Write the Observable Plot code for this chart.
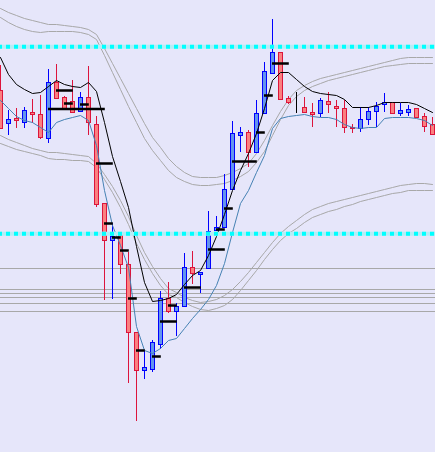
<!DOCTYPE html>
<html><head><meta charset="utf-8">
<script src="https://cdn.jsdelivr.net/npm/d3@7"></script>
<script src="https://cdn.jsdelivr.net/npm/@observablehq/plot@0.6"></script>
<style>html,body{margin:0;padding:0;background:#E6E6FA;overflow:hidden}#chart svg{display:block}</style>
</head><body><div id="chart"></div>
<script>
// Candle OHLC (bar index 0..54)
const open  = [1160,1127,1132,1128,1138,1136,1112,1168,1153,1149,1139,1153,1126,1047,1010,1015,986,918,880,881,906,952,939,944,983,976,982,1020,1023,1061,1115,1118,1098,1137,1177,1198,1152,1148,1143,1138,1137,1149,1144,1142,1123,1122,1131,1139,1146,1148,1137,1138,1142,1134,1126];
const high  = [1185,1140,1142,1143,1151,1155,1181,1186,1154,1170,1158,1184,1134,1047,1027,1015,998,918,900,910,959,968,947,997,999,978,1039,1034,1076,1129,1123,1120,1150,1188,1231,1198,1154,1158,1153,1147,1152,1158,1150,1150,1126,1143,1143,1148,1157,1148,1147,1145,1142,1137,1133];
const low   = [1122,1115,1122,1122,1127,1111,1107,1151,1142,1138,1139,1115,1043,950,951,976,867,829,871,878,901,937,914,944,966,957,982,1020,1023,1061,1098,1083,1098,1137,1177,1151,1146,1137,1138,1123,1133,1137,1123,1117,1117,1118,1125,1123,1138,1137,1134,1134,1133,1118,1116];
const close = [1122,1131,1130,1140,1136,1113,1168,1152,1142,1138,1153,1128,1046,1010,1014,986,918,880,883,908,952,939,944,983,977,978,1019,1023,1061,1117,1118,1098,1137,1179,1198,1151,1148,1148,1138,1136,1150,1146,1142,1123,1122,1131,1139,1144,1148,1137,1140,1141,1133,1124,1116];

// Indicator lines
const blackLine = [1193,1176,1166,1161,1157,1158,1164,1170,1166,1164,1163,1168,1159,1128,1094,1069,1043,1004,968,949,950,952,956,966,975,980,995,1014,1036,1060,1080,1097,1117,1142,1170,1178,1178,1171,1164,1159,1157,1156,1155,1151,1143,1143,1143,1145,1148,1148,1148,1148,1146,1142,1138];
const blueLine  = [1150,1142,1134,1130,1128,1123,1118,1128,1131,1133,1135,1130,1105,1060,1025,1005,983,924,900,897,902,910,912,922,932,941,951,965,987,1018,1047,1060,1078,1095,1122,1132,1134,1135,1136,1134,1133,1133,1131,1126,1123,1122,1123,1123,1132,1133,1133,1133,1132,1130,1125];
const upper1 = [1242,1238,1235,1232,1230,1228,1226,1226,1225,1224,1223,1221,1216,1202,1187,1172,1157,1142,1127,1113,1103,1092,1084,1078,1074,1073,1073,1073,1075,1078,1082,1087,1097,1110,1125,1139,1151,1160,1165,1169,1172,1174,1176,1178,1180,1182,1184,1186,1188,1190,1192,1193,1193,1193,1193];
const upper2 = [1233,1228,1224,1221,1219,1218,1219,1219,1219,1219,1218,1216,1211,1195,1178,1161,1144,1128,1112,1100,1090,1080,1073,1069,1066,1065,1065,1066,1067,1070,1074,1079,1088,1099,1115,1131,1145,1154,1160,1164,1167,1170,1172,1174,1176,1178,1180,1182,1184,1185,1186,1187,1187,1187,1187];
const lower1 = [1115,1111,1108,1105,1102,1100,1098,1098,1097,1096,1095,1094,1087,1076,1064,1050,1034,1015,998,984,972,962,958,953,950,948,949,951,955,961,969,978,988,998,1008,1017,1024,1030,1036,1041,1044,1047,1049,1051,1053,1055,1057,1059,1061,1063,1065,1066,1067,1067,1066];
const lower2 = [1107,1104,1101,1099,1097,1095,1092,1091,1091,1090,1090,1089,1083,1071,1058,1043,1026,1007,991,977,965,956,953,948,944,941,940,942,945,951,960,970,980,991,1001,1010,1017,1022,1028,1033,1036,1039,1041,1044,1046,1049,1051,1053,1055,1057,1058,1060,1060,1060,1060];

// Horizontal levels
const cyanLevels = [1203.7, 1016.7];
const grayLevels = [982, 961, 957, 953, 947, 939];

// Short black level segments: from bar, to bar, level
const segFrom  = [7,8,10,6,12,13,14,15,16,17,19,20,21,23,26,27,28,29,32,33,34];
const segTo    = [9,9,11,13,14,14,15,16,17,18,20,22,22,25,28,28,29,32,33,34,36];
const segLevel = [1160,1147,1146,1141.5,1087,1027,1013,1000,952,900,894,929,945,963,1001,1021,1042,1089,1118,1155,1187];

const candles = open.map((o, i) => ({i, open: o, high: high[i], low: low[i], close: close[i]}));
const dir = d => d.close > d.open ? "up" : d.close < d.open ? "down" : "flat";
const edge = {up: "#0000FF", down: "#DC143C", flat: "#000000"};
const body = {up: "#6495ED", down: "#FA8080", flat: "#000000"};
const series = (arr) => arr.map((v, i) => ({i, v}));
const segs = segFrom.map((a, k) => ({a, b: segTo[k], y: segLevel[k]}));

const chart = Plot.plot({
  width: 435, height: 452, margin: 0,
  style: {background: "#E6E6FA"},
  x: {type: "linear", domain: [0, 54.375], axis: null},
  y: {domain: [798, 1250], axis: null},
  marks: [
    Plot.ruleY(grayLevels, {stroke: "#A8A8A8", strokeWidth: 1, shapeRendering: "crispEdges"}),
    Plot.line(series(upper1), {x: "i", y: "v", stroke: "#A8A8A8", strokeWidth: 1}),
    Plot.line(series(upper2), {x: "i", y: "v", stroke: "#A8A8A8", strokeWidth: 1}),
    Plot.line(series(lower1), {x: "i", y: "v", stroke: "#A8A8A8", strokeWidth: 1}),
    Plot.line(series(lower2), {x: "i", y: "v", stroke: "#A8A8A8", strokeWidth: 1}),
    Plot.ruleX(candles, {x: "i", y1: "low", y2: "high", stroke: d => edge[dir(d)], strokeWidth: 1, shapeRendering: "crispEdges"}),
    Plot.rect(candles, {x1: d => d.i - 0.25, x2: d => d.i + 0.25, y1: "open", y2: "close",
      fill: d => body[dir(d)], stroke: d => edge[dir(d)], strokeWidth: 1, shapeRendering: "crispEdges"}),
    Plot.line(series(blackLine), {x: "i", y: "v", stroke: "#000000", strokeWidth: 1}),
    Plot.line(series(blueLine), {x: "i", y: "v", stroke: "#4682B4", strokeWidth: 1}),
    Plot.ruleY(segs, {x1: "a", x2: d => d.b + 0.1, y: "y", stroke: "#000000", strokeWidth: 2.5}),
    Plot.ruleY(cyanLevels, {stroke: "#B4EEF6", strokeWidth: 4}),
    Plot.ruleY(cyanLevels, {stroke: "#00FFFF", strokeWidth: 4, strokeDasharray: "4,4", strokeDashoffset: 2})
  ]
});
document.getElementById("chart").appendChild(chart);
</script></body></html>
